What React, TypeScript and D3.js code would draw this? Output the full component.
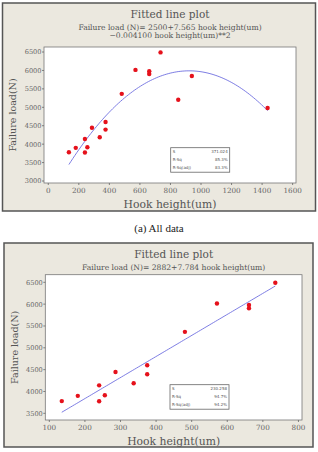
import { useMemo } from 'react';
import { scaleLinear, line, range, extent, mean, sum } from 'd3';

// hook height (um) vs failure load (N), all specimens
const hookHeight = [135, 180, 240, 240, 256, 286, 337, 375, 375, 481, 571, 661, 661, 735, 851, 940, 1436];
const failureLoad = [3780, 3900, 4140, 3775, 3915, 4445, 4187, 4600, 4395, 5365, 6015, 5980, 5905, 6490, 5205, 5850, 4980];

// quadratic fit printed above the first plot
const quadCoef = [2500, 7.565, -0.0041];

const statsAll = [['S', '371.024'], ['R-Sq', '85.3%'], ['R-Sq(adj)', '83.3%']];
const statsTrim = [['S', '230.258'], ['R-Sq', '94.7%'], ['R-Sq(adj)', '94.2%']];

const ticksAllX = range(0, 1601, 200);
const ticksAllY = range(3000, 6501, 500);
const ticksTrimX = range(100, 801, 100);
const ticksTrimY = range(3500, 6501, 500);

const SERIF = '"DejaVu Serif", serif';
const TXT = '#555';

type Pt = { x: number; y: number };

function Panel(props: {
  top: number; left: number; width: number; height: number;
  plot: { l: number; t: number; r: number; b: number };
  xDomain: [number, number]; yDomain: [number, number];
  xTicks: number[]; yTicks: number[];
  points: Pt[]; fit: (x: number) => number;
  eq: string[]; stats: string[][]; statBox: { x: number; y: number };
}) {
  const { top, left, width, height, plot, points, fit } = props;
  const x = scaleLinear().domain(props.xDomain).range([plot.l, plot.r]);
  const y = scaleLinear().domain(props.yDomain).range([plot.b, plot.t]);
  const [x0, x1] = extent(points, d => d.x) as [number, number];
  const curve = range(0, 101).map(i => x0 + (x1 - x0) * i / 100);
  const path = line<number>().x(d => x(d)).y(d => y(fit(d)))(curve) || '';
  const cx = (plot.l + plot.r) / 2;
  const titleY = top + 14.5;
  return (
    <g>
      <rect x={left} y={top} width={width} height={height} fill="#ebe8df" stroke="#555" strokeWidth={1.5} />
      <text x={cx} y={titleY} textAnchor="middle" fontFamily={SERIF} fontSize={10.5} fill={TXT}>Fitted line plot</text>
      {props.eq.map((t, i) => (
        <text key={i} x={cx} y={titleY + 12.2 + i * 8.5} textAnchor="middle" fontFamily={SERIF} fontSize={7.6} fill={TXT}>{t}</text>
      ))}
      <rect x={plot.l} y={plot.t} width={plot.r - plot.l} height={plot.b - plot.t} fill="#fff" stroke="#777" strokeWidth={0.8} />
      {props.yTicks.map(v => (
        <g key={v}>
          <line x1={plot.l - 2} x2={plot.l} y1={y(v)} y2={y(v)} stroke="#666" strokeWidth={0.8} />
          <text x={plot.l - 2.5} y={y(v) + 2.4} textAnchor="end" fontFamily={SERIF} fontSize={6.6} fill="#666">{v}</text>
        </g>
      ))}
      {props.xTicks.map(v => (
        <g key={v}>
          <line x1={x(v)} x2={x(v)} y1={plot.b} y2={plot.b + 2} stroke="#666" strokeWidth={0.8} />
          <text x={x(v)} y={plot.b + 10} textAnchor="middle" fontFamily={SERIF} fontSize={7.2} fill="#666">{v}</text>
        </g>
      ))}
      <text x={cx} y={plot.b + 24.5} textAnchor="middle" fontFamily={SERIF} fontSize={10.8} fill={TXT}>Hook height(um)</text>
      <text transform={`translate(${left + 13.5},${(plot.t + plot.b) / 2}) rotate(-90)`} textAnchor="middle"
        fontFamily={SERIF} fontSize={9.5} fill={TXT}>Failure load(N)</text>
      <path d={path} fill="none" stroke="#6f6fe0" strokeWidth={0.9} />
      {points.map((d, i) => (
        <circle key={i} cx={x(d.x)} cy={y(d.y)} r={2.2} fill="#e5111b" />
      ))}
      <g transform={`translate(${props.statBox.x},${props.statBox.y})`}>
        <rect width={59} height={24.5} fill="#fff" stroke="#666" strokeWidth={0.8} />
        {props.stats.map((s, i) => (
          <g key={i} fontFamily='"DejaVu Sans", sans-serif' fontSize={4} fill="#555">
            <text x={2} y={5.8 + i * 8}>{s[0]}</text>
            <text x={57} y={5.8 + i * 8} textAnchor="end">{s[1]}</text>
          </g>
        ))}
      </g>
    </g>
  );
}

export default function App() {
  const all: Pt[] = hookHeight.map((h, i) => ({ x: h, y: failureLoad[i] }));
  const trimmed = all.filter(d => d.x <= 800);

  // least-squares straight line through the trimmed set
  const linFit = useMemo(() => {
    const mx = mean(trimmed, d => d.x) as number;
    const my = mean(trimmed, d => d.y) as number;
    const b = sum(trimmed, d => (d.x - mx) * (d.y - my)) / sum(trimmed, d => (d.x - mx) ** 2);
    const a = my - b * mx;
    return (v: number) => a + b * v;
  }, []);
  const quadFit = (v: number) => quadCoef[0] + quadCoef[1] * v + quadCoef[2] * v * v;

  return (
    <svg width={318} height={452} style={{ position: 'absolute', left: 0, top: 0, background: '#fff' }}>
      <Panel top={3} left={2.5} width={313} height={208}
        plot={{ l: 44, t: 47, r: 296, b: 183 }}
        xDomain={[-28, 1622]} yDomain={[2946, 6636]}
        xTicks={ticksAllX} yTicks={ticksAllY}
        points={all} fit={quadFit}
        eq={['Failure load (N)= 2500+7.565 hook height(um)', '\u22120.004100 hook height(um)**2']}
        stats={statsAll} statBox={{ x: 170.7, y: 147.7 }} />
      <text x={159} y={231.5} textAnchor="middle" fontFamily='"Liberation Serif", serif' fontSize={11} fill="#222">(a) All data</text>
      <Panel top={243} left={4} width={309} height={204}
        plot={{ l: 45.3, t: 274.7, r: 302, b: 420 }}
        xDomain={[88.7, 810]} yDomain={[3347, 6674]}
        xTicks={ticksTrimX} yTicks={ticksTrimY}
        points={trimmed} fit={linFit}
        eq={['Failure load (N)= 2882+7.784 hook height(um)']}
        stats={statsTrim} statBox={{ x: 170, y: 384.7 }} />
    </svg>
  );
}
